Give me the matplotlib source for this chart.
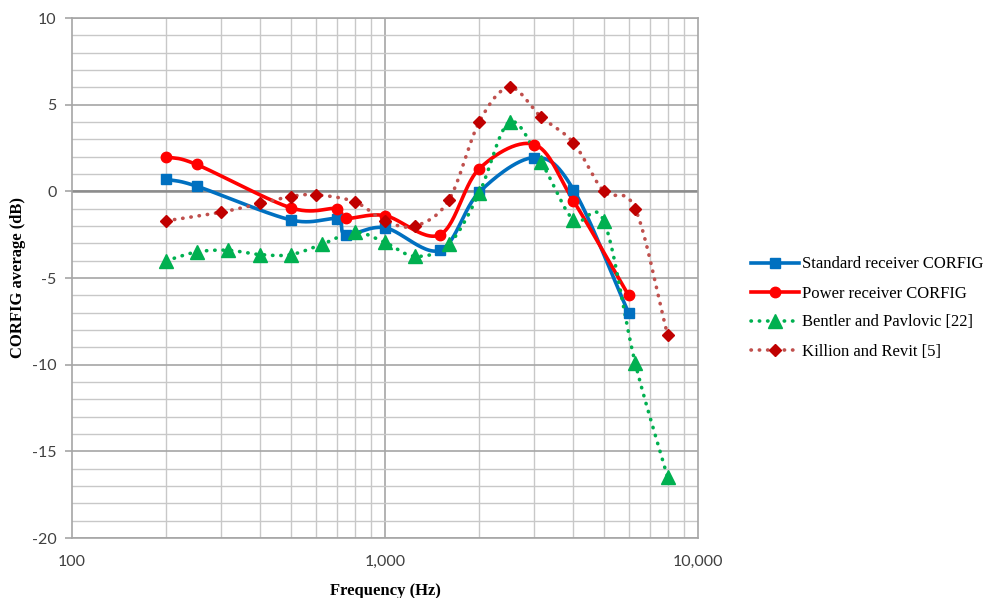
import numpy as np
import matplotlib
matplotlib.use("Agg")
from matplotlib import pyplot as plt
from matplotlib.ticker import FixedLocator, FuncFormatter, NullFormatter

# values
std_f = [200, 250, 500, 700, 750, 1000, 1500, 2000, 3000, 4000, 6000]
std_db = [0.7, 0.3, -1.65, -1.6, -2.5, -2.1, -3.4, -0.05, 1.95, 0.1, -7.0]

pow_f = [200, 250, 500, 700, 750, 1000, 1500, 2000, 3000, 4000, 6000]
pow_db = [2.0, 1.55, -0.95, -1.0, -1.55, -1.4, -2.5, 1.3, 2.7, -0.55, -6.0]

bent_f = [200, 250, 315, 400, 500, 630, 800, 1000, 1250, 1600, 2000, 2500,
          3150, 4000, 5000, 6300, 8000]
bent_db = [-4.0, -3.5, -3.4, -3.65, -3.65, -3.05, -2.35, -2.95, -3.75, -3.05,
           -0.1, 4.0, 1.7, -1.65, -1.7, -9.9, -16.5]

kill_f = [200, 300, 400, 500, 600, 800, 1000, 1250, 1600, 2000, 2500, 3150,
          4000, 5000, 6300, 8000]
kill_db = [-1.7, -1.2, -0.7, -0.3, -0.2, -0.6, -1.7, -2.0, -0.5, 4.0, 6.0,
           4.3, 2.8, 0.0, -1.0, -8.3]

labels = ["Standard receiver CORFIG", "Power receiver CORFIG",
          "Bentler and Pavlovic [22]", "Killion and Revit [5]"]


def smooth(f, y, n=30):
    # Excel-like smoothed line: Catmull-Rom in log-frequency space
    x = np.log10(np.array(f, dtype=float))
    y = np.array(y, dtype=float)
    px = np.concatenate([[2 * x[0] - x[1]], x, [2 * x[-1] - x[-2]]])
    py = np.concatenate([[2 * y[0] - y[1]], y, [2 * y[-1] - y[-2]]])
    xs, ys = [], []
    t = np.linspace(0, 1, n)
    for i in range(1, len(px) - 2):
        p0, p1, p2, p3 = px[i - 1:i + 3]
        q0, q1, q2, q3 = py[i - 1:i + 3]
        # bezier control points
        c1x, c1y = p1 + (p2 - p0) / 6, q1 + (q2 - q0) / 6
        c2x, c2y = p2 - (p3 - p1) / 6, q2 - (q3 - q1) / 6
        bx = (1 - t) ** 3 * p1 + 3 * (1 - t) ** 2 * t * c1x + 3 * (1 - t) * t ** 2 * c2x + t ** 3 * p2
        by = (1 - t) ** 3 * q1 + 3 * (1 - t) ** 2 * t * c1y + 3 * (1 - t) * t ** 2 * c2y + t ** 3 * q2
        xs.extend(bx)
        ys.extend(by)
    return 10 ** np.array(xs), np.array(ys)


fig = plt.figure(figsize=(9.91, 5.98), dpi=100)
ax = fig.add_axes([72 / 991, 1 - 538 / 598, (698 - 72) / 991, (538 - 18) / 598])

ax.set_xscale("log")
ax.set_xlim(100, 10000)
ax.set_ylim(-20, 10)

# grid
minor_x = [m * d for d in (100, 1000) for m in range(2, 10)]
for v in minor_x:
    ax.axvline(v, color="#c8c8c8", lw=1.0, zorder=0)
for v in (1000,):
    ax.axvline(v, color="#a6a6a6", lw=1.2, zorder=0)
for v in range(-20, 11):
    if v % 5:
        ax.axhline(v, color="#c8c8c8", lw=1.0, zorder=0)
    else:
        ax.axhline(v, color="#a6a6a6", lw=1.2, zorder=0)
ax.axhline(0, color="#8c8c8c", lw=1.8, zorder=1)

blue = "#0070C0"
red = "#FF0000"
green = "#00B050"
dred = "#C00000"
dot = "#C0504D"

x, y = smooth(std_f, std_db)
ax.plot(x, y, color=blue, lw=2.6, zorder=3, solid_capstyle="round")
ax.plot(std_f, std_db, ls="none", marker="s", ms=7, color=blue, zorder=4)

x, y = smooth(pow_f, pow_db)
ax.plot(x, y, color=red, lw=2.6, zorder=3, solid_capstyle="round")
ax.plot(pow_f, pow_db, ls="none", marker="o", ms=7.5, color=red, zorder=4)

x, y = smooth(bent_f, bent_db)
ax.plot(x, y, color=green, lw=2.6, ls=(0, (0.1, 2.2)), dash_capstyle="round", zorder=3)
ax.plot(bent_f, bent_db, ls="none", marker="^", ms=9.5, color=green, zorder=4)

x, y = smooth(kill_f, kill_db)
ax.plot(x, y, color=dot, lw=2.6, ls=(0, (0.1, 2.2)), dash_capstyle="round", zorder=3)
ax.plot(kill_f, kill_db, ls="none", marker="D", ms=6, color=dred, zorder=4)

# legend proxies
h1, = ax.plot([], [], color=blue, lw=2.6, marker="s", ms=7)
h2, = ax.plot([], [], color=red, lw=2.6, marker="o", ms=7.5)
h3, = ax.plot([], [], color=green, lw=2.6, ls=(0, (0.1, 2.2)), dash_capstyle="round",
              marker="^", ms=9.5)
h4, = ax.plot([], [], color=dot, lw=2.6, ls=(0, (0.1, 2.2)), dash_capstyle="round",
              marker="D", ms=6, mfc=dred, mec=dred)
fig.legend([h1, h2, h3, h4], labels, loc="center left",
           bbox_to_anchor=(736 / 991, 1 - 308 / 598), frameon=False,
           prop={"family": "Liberation Serif", "size": 12}, numpoints=1,
           handlelength=2.9, handletextpad=0.15, labelspacing=0.78)

# axes styling
for s in ax.spines.values():
    s.set_color("#a6a6a6")
    s.set_linewidth(1.2)
ax.xaxis.set_major_locator(FixedLocator([100, 1000, 10000]))
ax.xaxis.set_minor_locator(FixedLocator([]))
ax.xaxis.set_minor_formatter(NullFormatter())
ax.xaxis.set_major_formatter(FuncFormatter(lambda v, p: f"{int(v):,}"))
ax.yaxis.set_major_locator(FixedLocator(range(-20, 11, 5)))
ax.yaxis.set_major_formatter(FuncFormatter(lambda v, p: f"{int(v)}".replace("\u2212", "-")))
ax.tick_params(axis="x", length=0, pad=12, labelsize=11.5, colors="#404040")
ax.tick_params(axis="y", length=5, color="#a6a6a6", width=1.2, pad=6,
               labelsize=11.5, colors="#404040")
for lbl in ax.get_xticklabels() + ax.get_yticklabels():
    lbl.set_family("Lato")
    lbl.set_color("#404040")

ax.set_xlabel("Frequency (Hz)", family="Liberation Serif", fontweight="bold",
              fontsize=12, labelpad=10)
ax.set_ylabel("CORFIG average (dB)", family="Liberation Serif", fontweight="bold",
              fontsize=12, labelpad=4)

fig.savefig("out.png", dpi=100)
